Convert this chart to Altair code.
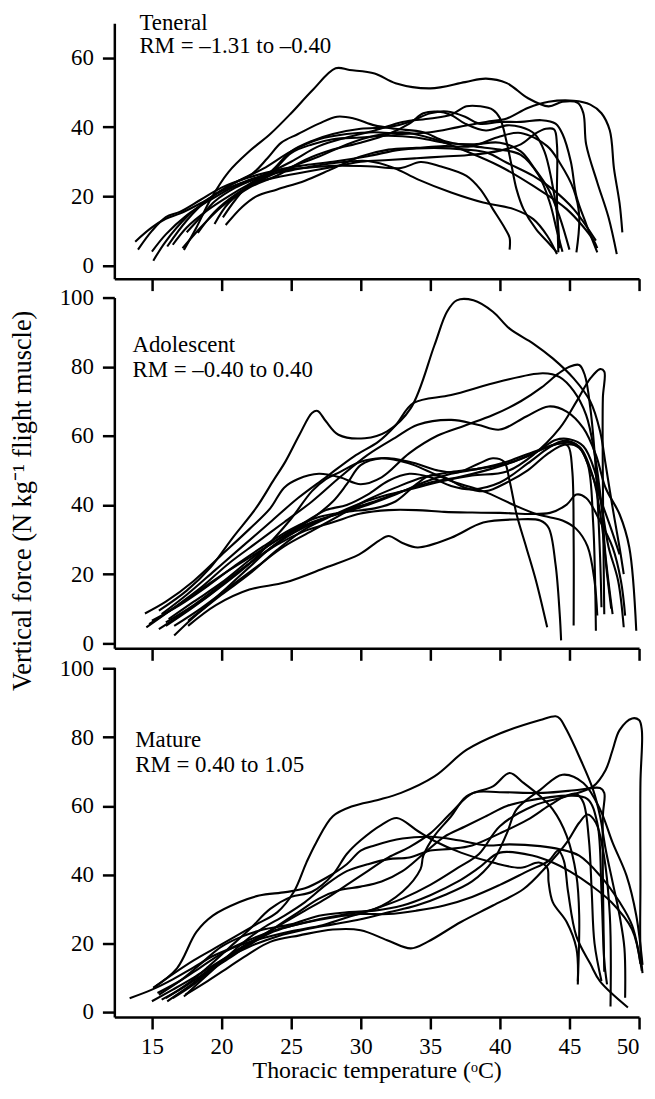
import altair as alt
import pandas as pd

FONT = "Liberation Serif"

X_TICKS = [15, 20, 25, 30, 35, 40, 45, 50]
Y_TICKS_TOP = [0, 20, 40, 60]
Y_TICKS = [0, 20, 40, 60, 80, 100]

X_TITLE = "Thoracic temperature (ᵒC)"
Y_TITLE = "Vertical force (N kg⁻¹ flight muscle)"

TENERAL_LABEL = ["Teneral", "RM = –1.31 to –0.40"]
ADOLESCENT_LABEL = ["Adolescent", "RM = –0.40 to 0.40"]
MATURE_LABEL = ["Mature", "RM = 0.40 to 1.05"]

# annotation anchor (x, y of each line's baseline) in data units
TENERAL_LABEL_POS = [(14.1, 68.0), (14.1, 61.3)]
ADOLESCENT_LABEL_POS = [(13.6, 84.3), (13.6, 77.1)]
MATURE_LABEL_POS = [(13.8, 77.2), (13.8, 70.0)]

# ---- Teneral curves (temperature, force) ----
T1 = [(17.3,4.5),(18.2,11),(19.2,19),(20.5,27),(22,33),(23.5,38),(25,44),(26.5,50.5),(28.2,57),(29.2,56.5),(31,55.5),(32.5,52.7),(35,51.2),(37.5,53),(39,54),(40.5,52.7),(42,48.4),(43.5,46),(44.5,47.3),(45.6,47),(46,44),(46.2,35),(47,24),(47.8,14),(48.4,3.3)]
T2 = [(16.1,5.5),(17.5,13),(19,19),(21,24),(23,28),(25,33),(27,36.5),(29,38),(31,38.5),(33,38),(35,38.5),(37,40),(39,41.5),(40.5,42.5),(42,45.5),(43.5,47.3),(45.3,47.6),(46.5,46.5),(47.3,44),(47.9,39),(48.2,28),(48.6,18),(48.8,9.6)]
T3 = [(15.1,1.4),(16,7),(17.5,14),(19,19),(20.5,23),(22.2,26.5),(23.3,31),(24.3,35.5),(25.5,38),(27,41),(28.3,43),(29.5,42.5),(31,40.5),(32.5,39.5),(34.5,38.5),(36,36),(38,34.5),(40,33.5),(41.5,32),(42.8,26),(43.6,18),(44.1,10),(44.5,4)]
T4 = [(13.8,6.9),(15,11),(16,13.5),(17,15),(18.5,18),(20,21.5),(21.5,24),(23,26),(25,27.5),(27,29),(29,30),(30.5,30.2),(32.4,28.2),(34.1,24.9),(36.5,21.1),(38.8,18.2),(41,16.3),(42.4,13.4),(43.4,8.6),(44.1,3.3)]
T5 = [(14.0,4.6),(15,10),(16,14),(17,15.5),(18.5,19),(20,22.5),(22,25.5),(24,27.5),(26,28.2),(28,28.8),(30.5,28.7),(32.9,28.2),(34.3,29.9),(35.7,28.7),(37.6,25.9),(38.6,22),(39.5,16.3),(40.4,10.5),(40.7,8),(40.7,4.6)]
T6 = [(20.3,11.7),(21.5,17),(22.5,20),(24,22),(26,24.5),(28,28),(30,31.5),(32,33.5),(34,34),(36,34.5),(38,34.5),(40,37.3),(41.5,38.3),(43.4,34.5),(44.3,29.7),(45.3,22),(45.7,14.4),(45.5,3.8)]
T7 = [(20.1,13.9),(21,19),(22,23.5),(23.5,27),(25,33),(26.5,36),(28,38),(30,39.5),(32,40),(33.5,41.5),(35,44),(36.2,44.5),(37.5,43),(38.5,41),(40,41.5),(41.5,41.5),(43,42),(44,41),(44.5,38),(45.1,30),(45.5,20),(46.2,12),(47,3.8)]
T8 = [(17.5,9.6),(18.5,14),(19.5,18.5),(21,22.5),(23,26),(25,30),(27,34.5),(29,37),(31,39),(33,41.5),(35,42.5),(36.5,43.6),(37.6,46),(38.6,46),(39.5,45),(40,42.6),(40.5,35.4),(40.8,29.7),(41.2,22),(41.7,16.3),(42.6,10.5),(43.5,6.5),(44.1,3.8)]
T9 = [(18.3,9.4),(19.5,15.5),(21,20.5),(22.5,24),(24,25.5),(26,27),(28,28.5),(30,30),(32,30.5),(34,31),(36,31.5),(38,32),(40,33.2),(41.5,35),(42.5,38),(43.3,39.5),(43.9,39.3),(44.1,35),(44.1,20),(44.2,3.8)]
T10 = [(16.5,6),(17.5,11),(19,16),(20.5,20),(22,23.5),(23.5,26.5),(25,32.5),(26.5,35),(28,36.5),(30,37),(32,37.5),(34,37),(36,35.5),(38,35),(40,35.5),(41.5,33),(42.5,28),(43.5,22),(44.3,14),(45,4.6)]
T11 = [(15,4),(16,9),(17.5,14.5),(19,18.5),(21,23),(23,26),(24.5,28),(26,29),(28,30),(30.5,31.6),(32.9,33.5),(35.3,34),(37.6,33.5),(39.1,32.6),(40.5,29.7),(42.4,25.9),(43.8,22),(45.3,16.3),(46.9,7.2)]
T12 = [(17.2,5),(18.5,11),(20,17),(21.5,21.5),(23,25),(25,28.5),(27,31.5),(29,35),(31,37.5),(33,38.5),(35.3,36.5),(37.6,33),(40,28.7),(42.4,23),(44.8,16.3),(46.7,7.5),(47,5)]
T13 = [(19.5,12),(20.5,18),(22,22.5),(24,26),(26,30.5),(28,33.5),(30,35.5),(32,38),(33.5,41),(34.5,44),(35.5,44.5),(36.5,43.5),(37.5,41),(39,39),(40.5,40.5),(41.5,40),(42.5,38),(43.2,33),(43.7,25),(44.1,15),(44.3,5)]
TENERAL = [T1, T2, T3, T4, T5, T6, T7, T8, T9, T10, T11, T12, T13]

# ---- Adolescent curves ----
A1 = [(15.5,9.4),(17.5,15.2),(19.2,21.9),(20.8,30.5),(22.5,39.2),(23.7,46.9),(24.6,52.6),(25.6,60.3),(26.5,66.6),(26.9,67.2),(27.5,64.2),(28.4,60.3),(30.3,59.3),(31.9,61.3),(33.6,68),(35.3,86.2),(36.2,95.9),(36.9,99.2),(38.1,99.2),(39.5,95.9),(40.7,91),(42.4,86.7),(43.8,82.4),(45.3,76.6),(46.5,69.9),(47.2,61.3),(47.6,51.7),(48.1,39.2),(48.6,27.7),(48.9,20)]
A2 = [(16.6,2.2),(18,7.5),(20,14),(22,20),(24,27),(26,33),(28,37),(30,40.5),(32,43),(34,45),(36,47),(38,48.5),(40.5,49.7),(42.4,54.5),(44.3,62.2),(45.5,69.9),(46.5,76.6),(47.2,79.3),(47.5,78.6),(47.4,70.9),(47.4,46.9),(47.5,8.4)]
A3 = [(14.5,8.6),(16,12),(18,18),(20,25.5),(22,33),(23.5,39),(24.5,45),(25.5,47.5),(27,49),(28.5,48),(30,46),(31.5,48),(33.5,55),(35.5,60),(37.5,63),(39.5,66),(41.5,70),(43,74),(44.2,78),(45,80),(45.7,80.5),(46.1,77.6),(46.5,68),(46.9,50),(47.2,25),(47.3,10.4)]
A4 = [(15.7,8.4),(17.5,14),(19.5,21),(21.5,28),(23.5,35),(25.5,42),(27.5,48),(29.5,54),(31.3,58.4),(32.5,63),(33.8,69.5),(36.5,71.8),(40,75.7),(43.1,78.1),(44.3,77),(45.3,73),(46.2,66),(46.8,55),(47.3,40),(47.6,25),(48.1,8.4)]
A5 = [(14.6,4.6),(16.5,10),(18.5,16),(20.5,23),(22.5,29),(24.5,35),(26.5,41),(28.5,48),(30.5,54.5),(32.5,59.5),(34.1,63.2),(36.5,64.6),(38.4,63.2),(40,61.8),(41.9,65.6),(43.5,68.5),(44.8,67),(46,62.2),(46.9,54.5),(47.6,44.9),(48.6,37.3),(49.3,27.7),(49.8,3.6)]
A6 = [(17.6,6.5),(19,11),(20.5,16.5),(22,22),(23.5,27.5),(25,32),(26.5,36),(28,41),(29,46),(30,51.5),(31.5,53.5),(33.5,52.5),(35.5,50),(37,49.5),(38.5,52),(39.5,53.5),(40.3,52.5),(40.7,46.9),(41.2,37.3),(41.9,27.7),(42.6,18),(43.4,4.6)]
A7 = [(17.6,5),(19.6,11),(22,15.5),(24.6,17.6),(27.5,21.9),(29.9,25.7),(31.3,29.6),(32,31),(33,29),(34.1,27.7),(36.5,30.5),(38.8,34.9),(41.2,35.8),(42.9,35.5),(43.5,33.4),(44,22.8),(44.3,8.4),(44.4,0.8)]
A8 = [(16,6),(18,11),(20,17),(22,23),(24,28.5),(26,32.5),(28,35),(30,37.5),(32,38.5),(34,38.5),(36,38),(38,37.8),(40,37.7),(43.6,37.7),(44.8,40.1),(45.5,43),(46.2,42),(47.2,35.3),(48.1,27.7),(48.7,18),(49,8)]
A9 = [(15.5,4.1),(17,8),(19,13.5),(21,20),(23,26),(25,31.5),(27,35.5),(29,38.5),(31,41),(33,44),(35,46.5),(37,48),(39,50),(41,52.5),(43,56),(44.3,57.8),(44.9,57),(45.2,50),(45.3,30),(45.3,5.1)]
A10 = [(16.2,7),(18,12),(20,17.5),(22,24),(24,30),(26,35),(27.5,38.5),(29,40),(30.5,43),(32,47),(33.5,49),(35,48),(36.5,45.5),(38,44.5),(40,46.5),(42,52),(43.5,56.5),(44.5,58.5),(45.5,57.5),(46.3,52),(46.7,35),(46.9,3.6)]
A11 = [(16.6,5),(18.5,10),(20.5,16),(22.5,22),(24.5,28),(26.5,32.5),(28.5,37),(30.5,41.5),(32.5,45),(34.5,48),(36.5,49.5),(38.5,50.5),(40.5,52),(42.5,55),(44,58.8),(45,59),(46,57),(46.8,50),(47.3,40),(47.8,28),(48.5,18),(48.9,4.6)]
A12 = [(15,6.5),(17,11),(19,16.5),(21,22.5),(23,28),(25,33),(27,36.5),(29,38),(31,39),(32.5,41),(34,46),(35,48.5),(36,48),(37.5,45),(39,44),(40.5,46.5),(42,50),(43.5,55),(44.7,57.5),(45.7,56.5),(46.5,50),(47.2,42),(48,33),(48.6,25.7)]
A13 = [(14.8,5.5),(16.5,10),(18.5,15.5),(20.5,21),(22.5,26),(24.5,31),(26.5,35),(28.5,37.5),(30.5,40),(32.5,43),(34.5,46.5),(36.5,49),(38.5,50.5),(40.5,52.5),(42.5,55.5),(44,57.5),(45,58),(45.8,56.5),(46.7,48),(47.3,35),(47.7,20),(48,10)]
A14 = [(16,5),(18,10.5),(20,16.5),(22,23),(23.7,30),(25,36),(26.5,44),(27.5,47.5),(28.5,49.5),(30,52.5),(31.5,53.5),(33.4,52.1),(35,49.5),(36.5,46.9),(38.8,44),(41,40),(42.5,37.5),(43.5,36.5),(44.5,35.5),(45.5,33),(46.3,28),(46.8,18),(47,8)]
ADOLESCENT = [A1, A2, A3, A4, A5, A6, A7, A8, A9, A10, A11, A12, A13, A14]

# ---- Mature curves ----
M1 = [(15.1,7),(16.5,11),(18,15),(19.5,18.5),(21,22),(22.5,25.5),(24,29),(25.2,35),(26.1,43.5),(26.8,49.3),(28,57),(29.4,59.9),(31.3,61.8),(32.9,63.8),(35.3,68.6),(37.6,76.3),(40,81.1),(42.9,85),(44,86.1),(44.3,85.5),(44.8,82.1),(45.7,74.4),(46.7,64.7),(47.2,57),(47.6,47.4),(48.1,37.8),(48.6,28.1),(48.95,18.5),(49,4.1)]
M2 = [(13.4,4),(15,6.5),(16.5,9.5),(18,13),(19.5,16.5),(21,19),(23,21.5),(25,23.5),(27,25),(29,27.5),(31,30),(33,33),(35,37),(37,42),(38.5,46),(40,54.1),(42.4,60),(44.8,62.8),(46.7,65.7),(47.6,70.5),(48.1,76.3),(48.6,82.1),(49.5,85.5),(50,85),(50.2,82.1),(50.1,66.7),(50.1,37.8),(50.1,18.5),(50.25,11.3)]
M3 = [(16.1,3.1),(17.5,7),(19,11.5),(20.5,15.5),(22,19.5),(23.5,23),(25,25),(27,27),(29,28.5),(31,30),(33,35),(34.3,41.6),(34.5,45.5),(35.3,51.3),(36.5,57),(37.6,62.8),(39.5,65.7),(40.7,69.6),(41.7,66.7),(42.9,62.8),(43.8,59),(44.8,51.3),(45.5,39.7),(45.7,28.1),(45.6,8.9)]
M4 = [(15,3.1),(16.5,6.5),(18,10),(20,15),(22,19),(24,22),(26,24),(28,25.5),(30,27),(32,29),(34,31),(36,34),(38,38),(39.5,44),(40.5,52),(41.2,59),(42.9,64.7),(44.5,69.1),(46,66.7),(47.2,59),(48.1,49.3),(49.1,39.7),(49.8,28.1),(50.25,13.7)]
M5 = [(15.7,3.6),(17,6.5),(18.5,10.5),(20,15),(21.5,19),(23,22.5),(24.5,26),(26,29.5),(27.5,33),(29,37),(30.5,41),(32,45),(33.5,48),(35,52),(36.5,58),(38.1,63.8),(40,64),(43.1,63.8),(45.7,64.7),(47.2,65.2),(47.5,63.8),(47.4,57),(47.5,11.7)]
M6 = [(17.4,5),(19,9),(20.5,13),(22,17),(23.5,20.4),(25.6,22.3),(28,24),(30,23.8),(31.9,20.9),(33.6,18.5),(34.8,20.4),(37.2,26.2),(39.5,31),(41.7,35.8),(43.4,42.6),(44.8,49.3),(45.7,55.1),(46.3,57.5),(46.9,55.1),(47.4,47.4),(47.9,28.1),(47.95,1.6)]
M7 = [(16,4),(17.5,8),(19,13),(20.5,18.5),(22,24),(23.5,30),(25,33.5),(26.5,35),(28,40),(29,46),(30,50),(31.5,54.5),(32.6,56.5),(34.1,52.7),(35.3,49.8),(37.2,46.4),(39.5,43.5),(41.5,42),(42.8,43.5),(43.4,42),(43.5,37.8),(43.8,32),(44.8,26.2),(45.5,18.5),(45.6,8)]
M8 = [(15.1,7),(16.8,12.7),(18.2,23.3),(19.4,28.1),(21.3,32),(22.7,33.9),(24.6,34.9),(26,36),(27.5,39),(29,43),(30,47),(31,48.5),(33,50.5),(35,51),(37,50),(39,48.5),(40.7,48.8),(42.9,48.3),(44.3,47.4),(45.7,45.5),(47.2,39.7),(48.6,32),(49.5,25.2),(50.2,12)]
M9 = [(15.5,5),(17,9),(18.5,14),(20,19),(21.5,22),(23,24),(25,25.5),(27,28),(29,29),(31,29.5),(33,31),(35,34),(37,38),(38.5,42),(40,46.4),(42.4,45.5),(43.8,43.5),(45,41),(46.5,37),(48,32),(49.5,24),(50.1,14)]
M10 = [(16.5,4),(18,8),(19.5,13),(21,17.5),(22.5,21),(24,25),(25.5,29),(27,33),(28.5,35.5),(30,36.5),(31.5,38),(33,41),(34.5,46),(36,51),(37.5,54),(39,57),(40.5,60),(42,61.5),(43.5,62.5),(45,63),(46.3,62),(47,55),(47.3,35),(47.5,15),(47.7,8)]
M11 = [(15.4,5.5),(17,9),(18.5,13),(20,17),(22,21),(24,24),(26,26),(28,27.5),(30,28.5),(32,28.5),(34,29.5),(36,31),(38,33.5),(40,37),(42,41),(43.5,44),(44.2,47),(44.6,44),(44.9,35),(45.5,22),(46.5,14),(47.2,8.9),(49.2,1.3)]
M12 = [(17.3,4.5),(18.5,9),(20,14.5),(21.5,20),(23,24.5),(24.5,28),(26,32),(27.5,37),(29,41),(30.5,43),(32,44.5),(33.5,45),(35,47),(36.5,47.5),(38,48.5),(40,52),(42,56),(43.5,60),(44.8,63),(45.5,63.5),(46,61),(46.4,50),(46.6,35),(46.8,20),(47.3,9)]
MATURE = [M1, M2, M3, M4, M5, M6, M7, M8, M9, M10, M11, M12]

X_DOMAIN = [12.3, 50]
TOP_Y_DOMAIN = [-3.8, 70]
MID_Y_DOMAIN = [-1.5, 100]
BOT_Y_DOMAIN = [-1.5, 100.4]

LABEL_SIZE = 23
TEXT_SIZE = 23
XTITLE_SIZE = 24
YTITLE_SIZE = 26.5


def curves_df(curves):
    rows = []
    for ci, pts in enumerate(curves):
        for k, (x, y) in enumerate(pts):
            rows.append({"curve": ci, "k": k, "x": x, "y": y})
    return pd.DataFrame(rows)


def labels_df(labels, pos):
    return pd.DataFrame([{"t": t, "x": p[0], "y": p[1]} for t, p in zip(labels, pos)])


def panel(curves, labels, pos, ydomain, yticks, height, bottom=False, ytitle=False):
    xscale = alt.Scale(domain=X_DOMAIN, nice=False, zero=False)
    yscale = alt.Scale(domain=ydomain, nice=False, zero=False)
    if bottom:
        xaxis = alt.Axis(values=X_TICKS, labels=True, title=X_TITLE, titlePadding=0,
                         labelPadding=7, titleFontSize=XTITLE_SIZE)
    else:
        xaxis = alt.Axis(values=X_TICKS, labels=False, title=None)
    if ytitle:
        yaxis = alt.Axis(values=yticks, title=Y_TITLE, titleX=-78, titleY=204,
                         titleAngle=270, titleAlign="center", titleBaseline="bottom",
                         titleFontSize=YTITLE_SIZE)
    else:
        yaxis = alt.Axis(values=yticks, title=None)
    lines = alt.Chart(curves_df(curves)).mark_line(
        interpolate="catmull-rom", color="black", strokeWidth=2.1
    ).encode(
        x=alt.X("x:Q", scale=xscale, axis=xaxis),
        y=alt.Y("y:Q", scale=yscale, axis=yaxis),
        detail="curve:N",
        order="k:Q",
    )
    text = alt.Chart(labels_df(labels, pos)).mark_text(
        align="left", baseline="alphabetic", font=FONT, fontSize=TEXT_SIZE, color="black"
    ).encode(
        x=alt.X("x:Q", scale=xscale),
        y=alt.Y("y:Q", scale=yscale),
        text="t:N",
    )
    return alt.layer(lines, text).properties(width=528, height=height)


p1 = panel(TENERAL, TENERAL_LABEL, TENERAL_LABEL_POS, TOP_Y_DOMAIN, Y_TICKS_TOP, 257)
p2 = panel(ADOLESCENT, ADOLESCENT_LABEL, ADOLESCENT_LABEL_POS, MID_Y_DOMAIN, Y_TICKS, 353, ytitle=True)
p3 = panel(MATURE, MATURE_LABEL, MATURE_LABEL_POS, BOT_Y_DOMAIN, Y_TICKS, 352, bottom=True)

chart = alt.vconcat(p1, p2, p3, spacing=19, bounds="flush").properties(
    padding={"left": 1, "top": 0, "right": 0, "bottom": 0}
).configure_view(stroke=None).configure_axis(
    grid=False,
    domainColor="black",
    domainWidth=2.5,
    tickColor="black",
    tickWidth=2.5,
    tickSize=12,
    labelFont=FONT,
    labelFontSize=LABEL_SIZE,
    labelColor="black",
    labelPadding=9,
    titleFont=FONT,
    titleFontSize=LABEL_SIZE,
    titleFontWeight="normal",
    titleColor="black",
)

chart.save("out.html", embed_options={"renderer": "svg", "actions": False})
